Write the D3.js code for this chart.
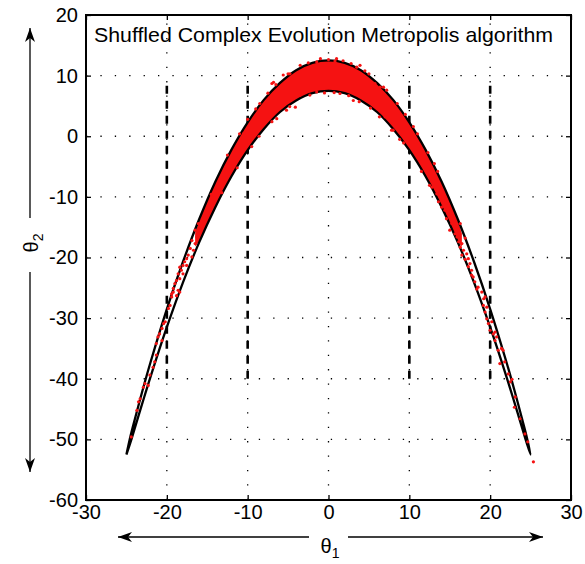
<!DOCTYPE html>
<html>
<head>
<meta charset="utf-8">
<script src="https://cdn.jsdelivr.net/npm/d3@7"></script>
<style>
  body { margin: 0; background: #fff; }
  text { font-family: "Liberation Sans", Helvetica, Arial, sans-serif; fill: #000; }
</style>
</head>
<body>
<div id="chart"></div>
<script>
var width = 585, height = 564;
var plot = {left: 86, right: 571, top: 15, bottom: 500};

var xTicks = [-30, -20, -10, 0, 10, 20, 30];
var yTicks = [-60, -50, -40, -30, -20, -10, 0, 10, 20];
var titleText = "Shuffled Complex Evolution Metropolis algorithm";

// dashed vertical markers
var markerT1 = [-20, -10, 10, 20];
var markerRange = [-40, 9.5];

// outline of the posterior (black curve)
var contourT1 = [-25, -24.5, -24, -23, -22, -20, -18, -16, -14, -12, -10, -8, -6, -4, -2, 0,
                 2, 4, 6, 8, 10, 12, 14, 16, 18, 20, 22, 23, 24, 24.5, 25];
var contourUpper = [-52.5, -49.5, -46.9, -41.9, -37.2, -28.5, -20.7, -13.7, -7.5, -2.2, 2.3, 6.0, 8.8, 10.9, 12.1, 12.5,
                    12.1, 10.9, 8.8, 6.0, 2.3, -2.2, -7.5, -13.7, -20.7, -28.5, -37.2, -41.9, -46.9, -49.5, -52.5];
var contourLower = [-52.5, -50.5, -48.3, -43.9, -39.6, -31.5, -24.1, -17.5, -11.7, -6.6, -2.3, 1.2, 4.0, 5.9, 7.1, 7.5,
                    7.1, 5.9, 4.0, 1.2, -2.3, -6.6, -11.7, -17.5, -24.1, -31.5, -39.6, -43.9, -48.3, -50.5, -52.5];

// dense part of the sample cloud
var bandT1 = [-16.5, -16, -15, -14, -13, -12, -10, -8, -6, -4, -2, 0, 2, 4, 6, 8, 10, 12, 13, 14, 15, 16, 16.5];
var bandHi = [-16.0, -14.0, -10.5, -7.5, -4.77, -2.2, 2.3, 6.0, 8.8, 10.9, 12.1, 12.5,
              12.1, 10.9, 8.8, 6.0, 2.3, -2.2, -4.77, -7.5, -10.5, -14.0, -16.0];
var bandLo = [-18.2, -17.3, -14.5, -11.7, -9.03, -6.6, -2.3, 1.2, 4.0, 5.9, 7.1, 7.5,
              7.1, 5.9, 4.0, 1.2, -2.3, -6.6, -9.03, -11.7, -14.5, -17.3, -18.2];

// scattered samples (tails and edges)
var sampleT1 = [
  -19.2, -18.4, -19.4, -19.6, -19.8, -20.2, -20.4, -20.6, -20.9, -21.1, -20.6, -21.3, -21.3, -21.5, -21.7,
  -22.1, -22.7, -22.3, -22.9, -23.3, -23.5, -23.7, -24.4,
  -16.1, -16.5, -15.9, -16.3, -16.9, -16.5, -17.1, -16.7, -17.35, -17.55, -16.9, -17.8, -18.0, -18.4, -17.55,
  -18.2, -18.6, -18.0, -18.8, -18.4, -19.0, -19.2, -18.6, -19.4, -18.8,
  12.8, 13.4, 13.8, 13.6, 14.2, 14.0, 14.4, 14.8, 14.6, 15.25, 15.0, 15.65, 16.3, 15.9, 16.1, 16.5, 16.9,
  16.3, 16.7, 17.1, 16.5, 17.3, 16.9, 17.5, 17.7, 17.3, 17.9, 18.1, 17.7, 18.5, 18.35, 19.2,
  18.96, 19.37, 19.16, 19.58, 19.37, 19.58, 19.78, 20.2, 19.99, 20.4, 20.6, 20.8, 20.6, 21.0, 21.4, 21.6,
  21.2, 21.8, 22.25, 22.7, 22.5, 23.1, 23.0, 23.7, 24.3, 24.65, 25.35,
  -1.46, 0, 0.8, -3.5, 3.5, 3.9, -4.76, -5.6, 5.75, 6.4, -3.5, -4.1, 3.07, -1.46, 1.42, -5.2, -6.4, 7.0, 8.0,
  -7.0, -6.8, -10.5, 7.2, 7.8,
  -9.0, -11.0, -8.5, -6.5, -2.5, 1.8, 5.0, 8.5, 9.5, 11.0, 12.3,
  -8.6, -2.3, 2.5, 5.2, 9.3, -11.3, -13.2, -14.5, 13.1, 15.3,
  -12.5, -10.0, -7.5, -5.0, -1.0, 1.0, 2.8, 4.5, 6.8, 10.5, 13.5,
  -9.5, -7.0, -4.8, -0.5, 0.7, 3.8, 6.3, 8.8, 11.5, 12.5
];
var sampleT2 = [
  -25.7, -25.7, -26.5, -27.9, -28.4, -30.6, -30.9, -31.7, -32.6, -33.1, -33.7, -34.2, -36.1, -37.2, -38.1,
  -39.4, -40.8, -41.1, -41.4, -43.3, -43.8, -45.2, -49.6,
  -14.4, -15.5, -15.2, -16.6, -17.2, -17.7, -18.5, -18.8, -19.6, -20.2, -19.9, -20.7, -21.3, -21.6, -21.3,
  -22.1, -22.7, -22.7, -23.8, -23.5, -24.3, -25.1, -25.4, -26.0, -26.3,
  -8.4, -9.5, -10.0, -10.8, -10.6, -11.7, -12.2, -12.8, -13.6, -14.4, -15.5, -16.1, -14.4, -16.6, -17.4, -17.7, -16.8,
  -18.3, -18.8, -19.4, -19.6, -20.2, -20.3, -21.0, -22.1, -21.5, -23.2, -24.0, -22.9, -24.9, -25.2, -26.8,
  -25.7, -26.5, -27.9, -28.2, -29.0, -30.1, -30.9, -30.6, -32.0, -32.6, -32.3, -33.1, -33.7, -35.3, -35.0, -35.3,
  -37.5, -37.2, -39.2, -40.1, -40.5, -43.0, -44.7, -46.6, -49.1, -50.4, -53.7,
  12.26, 12.65, 12.4, 11.7, 11.4, 11.7, 10.3, 10.1, 8.7, 8.1, 6.8, 4.8, 5.9, 7.3, 7.05, 4.3, 2.9, 3.2, 1.0,
  8.7, 8.9, 0.45, 7.6, 1.0,
  4.5, 0.4, 5.4, 8.5, 12.1, 12.45, 10.3, 5.4, 3.6, 0.4, -2.7,
  0.0, 6.8, 6.7, 4.65, -1.1, -5.2, -9.3, -9.6, -4.5, -13.2,
  -3.1, 2.8, 7.1, 10.3, 12.8, 12.8, 12.0, 10.8, 8.1, 1.6, -5.8,
  -1.7, 2.4, 4.9, 7.15, 7.2, 5.7, 3.2, -0.5, -5.8, -8.1
];

var svg = d3.select("#chart").append("svg")
  .attr("width", width)
  .attr("height", height);

var x = d3.scaleLinear().domain([-30, 30]).range([plot.left, plot.right]);
var y = d3.scaleLinear().domain([-60, 20]).range([plot.bottom, plot.top]);

// dotted grid
svg.selectAll("line.gridx")
  .data(xTicks.slice(1, -1))
  .enter().append("line")
  .attr("x1", function(d){ return x(d); })
  .attr("x2", function(d){ return x(d); })
  .attr("y1", plot.bottom)
  .attr("y2", plot.top)
  .style("stroke", "#000")
  .style("stroke-width", 1.3)
  .style("stroke-dasharray", "1.3,13.1");

svg.selectAll("line.gridy")
  .data(yTicks.slice(1, -1))
  .enter().append("line")
  .attr("x1", plot.left)
  .attr("x2", plot.right)
  .attr("y1", function(d){ return y(d); })
  .attr("y2", function(d){ return y(d); })
  .style("stroke", "#000")
  .style("stroke-width", 1.3)
  .style("stroke-dasharray", "1.3,13.1");

// dashed markers
svg.selectAll("line.marker")
  .data(markerT1)
  .enter().append("line")
  .attr("x1", function(d){ return x(d); })
  .attr("x2", function(d){ return x(d); })
  .attr("y1", y(markerRange[0]))
  .attr("y2", y(markerRange[1]))
  .style("stroke", "#000")
  .style("stroke-width", 2.6)
  .style("stroke-dasharray", "8,7");

var red = "#f51212";

// dense red cloud, reaching the middle of the black outline
svg.append("path")
  .datum(bandT1.map(function(t, i){ return [t, bandLo[i], bandHi[i]]; }))
  .attr("d", d3.area()
    .x(function(d){ return x(d[0]); })
    .y0(function(d){ return y(d[1]); })
    .y1(function(d){ return y(d[2]); })
    .curve(d3.curveCatmullRom))
  .style("fill", red);

// black contour: along the upper edge, then back along the lower edge
var contourPts = contourT1.map(function(t, i){ return [t, contourUpper[i]]; });
for (var i = contourT1.length - 2; i > 0; i--) {
  contourPts.push([contourT1[i], contourLower[i]]);
}
contourPts.push([contourT1[0], contourLower[0]]);

svg.append("path")
  .datum(contourPts)
  .attr("d", d3.line()
    .x(function(d){ return x(d[0]); })
    .y(function(d){ return y(d[1]); })
    .curve(d3.curveCatmullRom))
  .style("fill", "none")
  .style("stroke", "#000")
  .style("stroke-width", 2.3)
  .style("stroke-linejoin", "round");

svg.selectAll("circle.sample")
  .data(sampleT1.map(function(t, i){ return [t, sampleT2[i]]; }))
  .enter().append("circle")
  .attr("cx", function(d){ return x(d[0]); })
  .attr("cy", function(d){ return y(d[1]); })
  .attr("r", 1.6)
  .style("fill", red);

// axes, ticks inside
var fontSize = 20;
var plain = function(d){ return String(d); };
var bottomAxis = svg.append("g")
  .attr("transform", "translate(0," + plot.bottom + ")")
  .call(d3.axisBottom(x).tickValues(xTicks).tickSize(-5).tickPadding(5).tickFormat(plain));
var leftAxis = svg.append("g")
  .attr("transform", "translate(" + plot.left + ",0)")
  .call(d3.axisLeft(y).tickValues(yTicks).tickSize(-5).tickPadding(8).tickFormat(plain));
var topAxis = svg.append("g")
  .attr("transform", "translate(0," + plot.top + ")")
  .call(d3.axisTop(x).tickValues(xTicks).tickSize(-5).tickFormat(""));
var rightAxis = svg.append("g")
  .attr("transform", "translate(" + plot.right + ",0)")
  .call(d3.axisRight(y).tickValues(yTicks).tickSize(-5).tickFormat(""));

[bottomAxis, leftAxis, topAxis, rightAxis].forEach(function(g){
  g.select(".domain").remove();
  g.selectAll("line").style("stroke", "#000").style("stroke-width", 1.3);
  g.selectAll("text")
    .style("font-size", fontSize + "px")
    .style("font-family", "'Liberation Sans', Helvetica, Arial, sans-serif")
    .style("fill", "#000");
});

svg.append("rect")
  .attr("x", plot.left)
  .attr("y", plot.top)
  .attr("width", plot.right - plot.left)
  .attr("height", plot.bottom - plot.top)
  .style("fill", "none")
  .style("stroke", "#000")
  .style("stroke-width", 2);

// title inside the box
svg.append("text")
  .attr("x", 94)
  .attr("y", 42)
  .attr("textLength", 459)
  .attr("lengthAdjust", "spacingAndGlyphs")
  .style("font-size", "21px")
  .text(titleText);

// axis labels with arrows
var xl = svg.append("text")
  .attr("x", 330)
  .attr("y", 553)
  .attr("text-anchor", "middle")
  .style("font-size", "20px");
xl.append("tspan").text("θ");
xl.append("tspan").attr("dy", 5).style("font-size", "14px").text("1");

var yl = svg.append("text")
  .attr("transform", "translate(38,243) rotate(-90)")
  .attr("text-anchor", "middle")
  .style("font-size", "20px");
yl.append("tspan").text("θ");
yl.append("tspan").attr("dy", 5).style("font-size", "14px").text("2");

function arrow(x1, y1, x2, y2) {
  svg.append("line")
    .attr("x1", x1).attr("y1", y1).attr("x2", x2).attr("y2", y2)
    .style("stroke", "#000").style("stroke-width", 1.3);
  var a = Math.atan2(y2 - y1, x2 - x1);
  var head = [[0, 0], [-14, -5], [-10, 0], [-14, 5]].map(function(p){
    return [x2 + p[0] * Math.cos(a) - p[1] * Math.sin(a), y2 + p[0] * Math.sin(a) + p[1] * Math.cos(a)];
  });
  svg.append("path")
    .attr("d", "M" + head.join("L") + "Z")
    .style("fill", "#000");
}
arrow(309, 537, 118, 537);
arrow(348, 537, 543, 537);
arrow(30, 218, 30, 28);
arrow(30, 272, 30, 472);
</script>
</body>
</html>
